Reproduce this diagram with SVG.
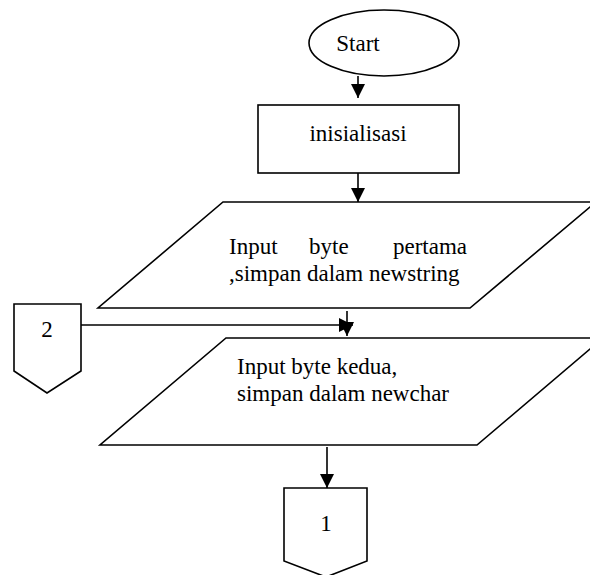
<svg xmlns="http://www.w3.org/2000/svg" width="590" height="575" viewBox="0 0 590 575">
<style>
.s{fill:#fff;stroke:#000;stroke-width:1.6}
.c{fill:none;stroke:#000;stroke-width:1.6}
text{font-family:"Liberation Serif","Times New Roman",serif;font-size:23px;fill:#000}
</style>
<defs>
<marker id="ah" markerWidth="15" markerHeight="14" refX="14" refY="7" orient="auto" markerUnits="userSpaceOnUse">
<path d="M0,0 L14,7 L0,14 Z" fill="#000"/>
</marker>
</defs>
<rect width="590" height="575" fill="#fff"/>
<g id="start">
<ellipse class="s" cx="384" cy="43" rx="75" ry="33"/>
<text x="358" y="51" text-anchor="middle">Start</text>
</g>
<g id="init">
<rect class="s" x="258" y="105" width="201" height="68"/>
<text x="358" y="141" text-anchor="middle">inisialisasi</text>
</g>
<g id="input1">
<polygon class="s" points="223,202 596,202 470,308 98,308"/>
<text y="254"><tspan x="229">Input</tspan><tspan x="309">byte</tspan><tspan x="467" text-anchor="end">pertama</tspan></text>
<text x="229" y="281">,simpan dalam newstring</text>
</g>
<g id="input2">
<polygon class="s" points="226,338 603,338 477,445 100,445"/>
<text x="237" y="374">Input byte kedua,</text>
<text x="237" y="401">simpan dalam newchar</text>
</g>
<g id="conn2">
<polygon class="s" points="14,304 81,304 81,371 47,393 14,371"/>
<text x="47" y="337" text-anchor="middle">2</text>
</g>
<g id="conn1">
<polygon class="s" points="284,488 367,488 367,561 326,577 284,561"/>
<text x="326" y="531" text-anchor="middle">1</text>
</g>
<g id="connectors">
<line class="c" x1="358" y1="76" x2="358" y2="98" marker-end="url(#ah)"/>
<line class="c" x1="358" y1="173" x2="358" y2="202" marker-end="url(#ah)"/>
<line class="c" x1="347" y1="311" x2="347" y2="336" marker-end="url(#ah)"/>
<line class="c" x1="81" y1="325" x2="353" y2="325" marker-end="url(#ah)"/>
<line class="c" x1="327" y1="447" x2="327" y2="488" marker-end="url(#ah)"/>
</g>
</svg>
